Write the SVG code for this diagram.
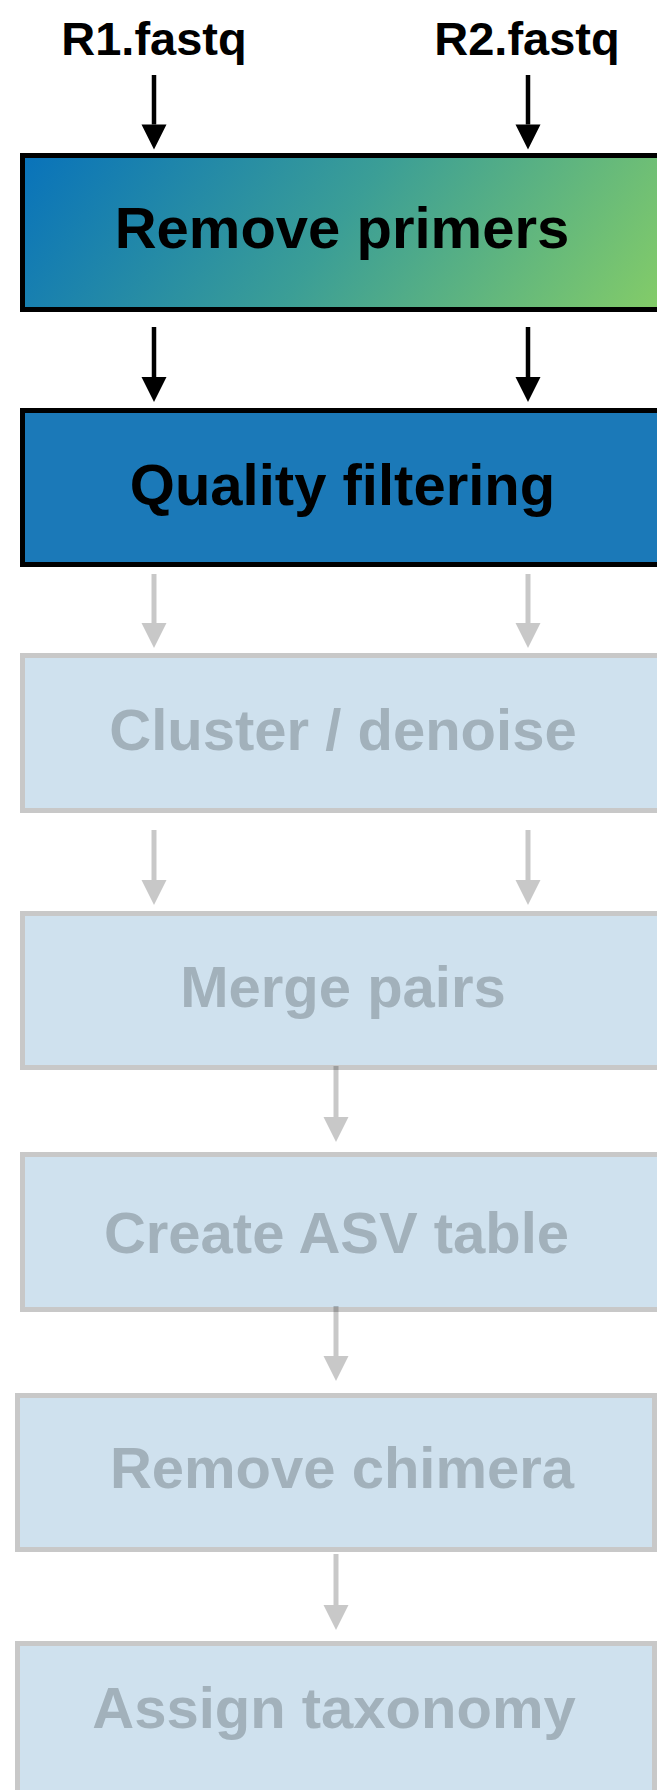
<svg xmlns="http://www.w3.org/2000/svg" width="657" height="1790" viewBox="0 0 657 1790">
  <style>
    .label { font-family: "Liberation Sans", Arial, sans-serif; font-weight: bold; text-anchor: middle; }
    .input { font-size: 47px; fill: #000; }
    .step { font-size: 58px; }
    .done { fill: #000; }
    .todo { fill: #a2b1bb; }
    .box-active { stroke: #000; stroke-width: 5; }
    .box-todo { fill: #cfe1ee; stroke: #c8c8c8; stroke-width: 5; }
    .link-active { stroke: #000; stroke-width: 4.5; fill: none; }
    .link-todo { stroke: #000; stroke-opacity: 0.215; stroke-width: 5; fill: none; }
  </style>
  <defs>
    <linearGradient id="primerFill" gradientUnits="userSpaceOnUse" x1="20" y1="153" x2="510" y2="505">
      <stop offset="0" stop-color="#0872bb"/>
      <stop offset="0.5" stop-color="#3b9e96"/>
      <stop offset="1" stop-color="#82cb69"/>
    </linearGradient>
    <marker id="headActive" markerUnits="userSpaceOnUse" markerWidth="26" markerHeight="26" refX="0" refY="12.5" orient="auto" viewBox="0 0 26 25" overflow="visible">
      <path d="M0,0 L25,12.5 L0,25 Z" fill="#000"/>
    </marker>
    <marker id="headTodo" markerUnits="userSpaceOnUse" markerWidth="26" markerHeight="26" refX="0" refY="12.5" orient="auto" viewBox="0 0 26 25" overflow="visible">
      <path d="M0,0 L25,12.5 L0,25 Z" fill="#000" fill-opacity="0.215"/>
    </marker>
  </defs>

  <rect width="657" height="1790" fill="#fff"/>

  <!-- paired input files -->
  <g id="input-r1">
    <text class="label input" x="154" y="55">R1.fastq</text>
  </g>
  <g id="input-r2">
    <text class="label input" x="527" y="55">R2.fastq</text>
  </g>

  <!-- pipeline steps -->
  <g id="step-remove-primers">
    <rect class="box-active" x="22.5" y="155.5" width="642" height="154" fill="url(#primerFill)"/>
    <text class="label step done" x="342" y="248">Remove primers</text>
  </g>
  <g id="step-quality-filtering">
    <rect class="box-active" x="22.5" y="410.5" width="642" height="154" fill="#1b79b8"/>
    <text class="label step done" x="342.5" y="505">Quality filtering</text>
  </g>
  <g id="step-cluster-denoise">
    <rect class="box-todo" x="22.5" y="655.5" width="642" height="155"/>
    <text class="label step todo" x="343" y="750">Cluster / denoise</text>
  </g>
  <g id="step-merge-pairs">
    <rect class="box-todo" x="22.5" y="913.5" width="642" height="154"/>
    <text class="label step todo" x="343" y="1007">Merge pairs</text>
  </g>
  <g id="step-asv-table">
    <rect class="box-todo" x="22.5" y="1154.5" width="642" height="155"/>
    <text class="label step todo" x="336.5" y="1253">Create ASV table</text>
  </g>
  <g id="step-remove-chimera">
    <rect class="box-todo" x="17.5" y="1395.5" width="637" height="154"/>
    <text class="label step todo" x="342" y="1488">Remove chimera</text>
  </g>
  <g id="step-assign-taxonomy">
    <rect class="box-todo" x="17.5" y="1643.5" width="637" height="200"/>
    <text class="label step todo" x="334" y="1728">Assign taxonomy</text>
  </g>

  <!-- connectors -->
  <g id="connectors">
    <line class="link-active" x1="154" y1="75" x2="154" y2="124.5" marker-end="url(#headActive)"/>
    <line class="link-active" x1="528" y1="75" x2="528" y2="124.5" marker-end="url(#headActive)"/>
    <line class="link-active" x1="154" y1="327" x2="154" y2="377" marker-end="url(#headActive)"/>
    <line class="link-active" x1="528" y1="327" x2="528" y2="377" marker-end="url(#headActive)"/>

    <line class="link-todo" x1="154" y1="574" x2="154" y2="623" marker-end="url(#headTodo)"/>
    <line class="link-todo" x1="528" y1="574" x2="528" y2="623" marker-end="url(#headTodo)"/>
    <line class="link-todo" x1="154" y1="830" x2="154" y2="880" marker-end="url(#headTodo)"/>
    <line class="link-todo" x1="528" y1="830" x2="528" y2="880" marker-end="url(#headTodo)"/>
    <line class="link-todo" x1="336" y1="1066" x2="336" y2="1117" marker-end="url(#headTodo)"/>
    <line class="link-todo" x1="336" y1="1306" x2="336" y2="1356" marker-end="url(#headTodo)"/>
    <line class="link-todo" x1="336" y1="1554" x2="336" y2="1605" marker-end="url(#headTodo)"/>
  </g>
</svg>
